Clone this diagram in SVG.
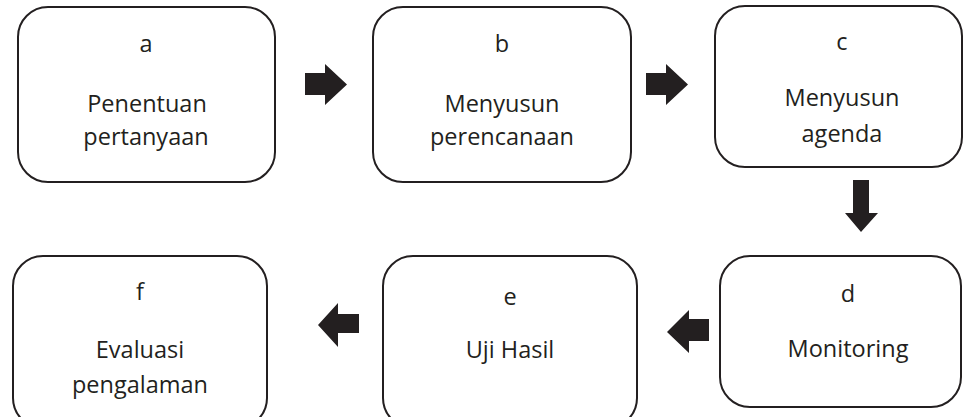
<svg xmlns="http://www.w3.org/2000/svg" width="964" height="417" viewBox="0 0 964 417">
<style>
.box{fill:#fff;stroke:#231f20;stroke-width:2}
.t{font-family:"Open Sans","Liberation Sans",sans-serif;font-size:23.5px;fill:#231f20;text-anchor:middle}
.arr{fill:#231f20}
</style>
<rect width="964" height="417" fill="#fff"/>
<g id="node-a"><rect class="box" x="18" y="7" width="257" height="175" rx="30"/>
<text class="t" x="146" y="52">a</text><text class="t" x="147" y="112">Penentuan</text><text class="t" x="146" y="145">pertanyaan</text></g>
<g id="node-b"><rect class="box" x="373" y="7" width="258" height="175" rx="30"/>
<text class="t" x="502" y="52">b</text><text class="t" x="502" y="112">Menyusun</text><text class="t" x="502" y="145">perencanaan</text></g>
<g id="node-c"><rect class="box" x="715" y="6" width="247" height="161" rx="30"/>
<text class="t" x="842" y="50">c</text><text class="t" x="842" y="106">Menyusun</text><text class="t" x="842" y="142">agenda</text></g>
<g id="node-d"><rect class="box" x="720" y="256" width="241" height="151" rx="30"/>
<text class="t" x="848" y="302">d</text><text class="t" x="848" y="357">Monitoring</text></g>
<g id="node-e"><rect class="box" x="383" y="256" width="254" height="172" rx="30"/>
<text class="t" x="510" y="305">e</text><text class="t" x="510" y="358">Uji Hasil</text></g>
<g id="node-f"><rect class="box" x="13" y="256" width="254" height="172" rx="30"/>
<text class="t" x="140" y="300">f</text><text class="t" x="140" y="358">Evaluasi</text><text class="t" x="140" y="393">pengalaman</text></g>
<g id="connectors">
<polygon class="arr" points="305,73 325,73 325,64 347,84.5 325,105 325,95 305,95"/>
<polygon class="arr" points="646,73 666,73 666,64 688,84.5 666,105 666,95 646,95"/>
<polygon class="arr" points="853,180 869,180 869,213 878,213 861,232 845,213 853,213"/>
<polygon class="arr" points="709,319 689,319 689,310 667,332 689,353 689,341 709,341"/>
<polygon class="arr" points="359,314 338,314 338,303 318,325 338,347 338,333 359,333"/>
</g>
</svg>
